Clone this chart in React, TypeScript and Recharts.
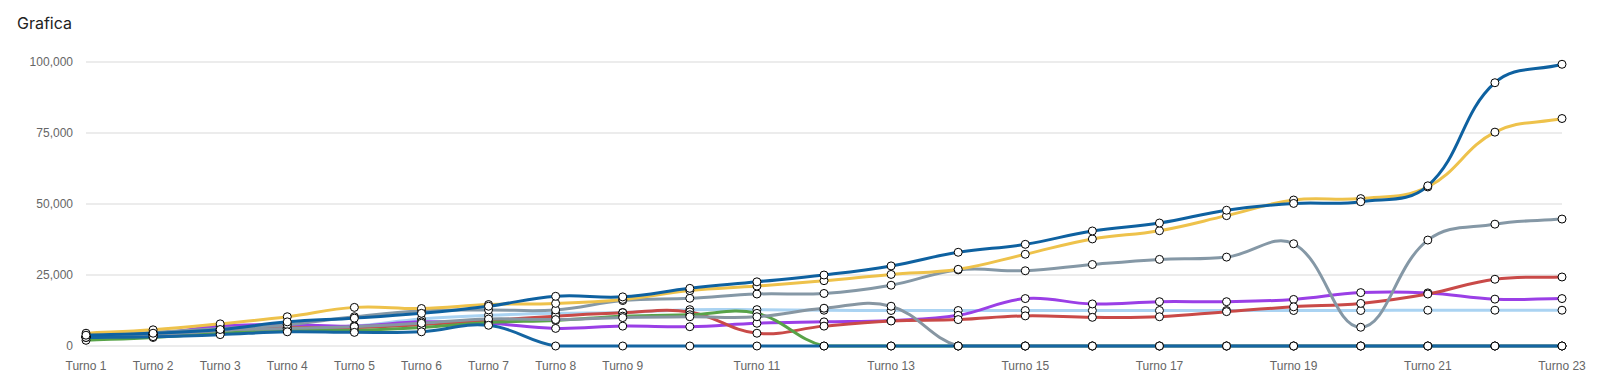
import React from 'react';
import { LineChart, Line, XAxis, YAxis, CartesianGrid } from 'recharts';

const categories = [
  'Turno 1', 'Turno 2', 'Turno 3', 'Turno 4', 'Turno 5', 'Turno 6', 'Turno 7', 'Turno 8',
  'Turno 9', 'Turno 10', 'Turno 11', 'Turno 12', 'Turno 13', 'Turno 14', 'Turno 15', 'Turno 16',
  'Turno 17', 'Turno 18', 'Turno 19', 'Turno 20', 'Turno 21', 'Turno 22', 'Turno 23',
];
const xTicks = [
  'Turno 1', 'Turno 2', 'Turno 3', 'Turno 4', 'Turno 5', 'Turno 6', 'Turno 7', 'Turno 8',
  'Turno 9', 'Turno 11', 'Turno 13', 'Turno 15', 'Turno 17', 'Turno 19', 'Turno 21', 'Turno 23',
];
const yTicks = [0, 25000, 50000, 75000, 100000];

const blue = [3800, 4500, 5800, 8500, 9800, 11500, 14000, 17500, 17300, 20300, 22600, 25000, 28200, 33000, 35800, 40500, 43300, 47800, 50200, 50800, 56400, 92700, 99200];
const yellow = [4500, 5700, 7800, 10300, 13600, 13200, 14600, 15000, 16400, 19500, 21100, 23000, 25200, 27000, 32300, 37700, 40600, 45900, 51400, 51900, 56000, 75300, 80100];
const gray = [3500, 4800, 6200, 7500, 10300, 12400, 12700, 12700, 16000, 16800, 18300, 18500, 21400, 26800, 26500, 28700, 30500, 31300, 36000, 6600, 37300, 42900, 44700];
const red = [3000, 4000, 5500, 6500, 6500, 7500, 9000, 10500, 11700, 12000, 4500, 7000, 8800, 9300, 10600, 10100, 10300, 12100, 13800, 15000, 18300, 23500, 24300];
const purple = [3200, 4200, 7000, 7500, 7000, 8500, 8000, 6200, 7000, 6800, 8000, 8500, 9000, 10800, 16700, 14800, 15600, 15600, 16400, 18800, 18700, 16500, 16700];
const lightBlue = [3300, 4000, 5000, 6000, 7000, 9500, 10800, 11500, 11800, 12800, 12800, 12600, 12500, 12500, 12500, 12500, 12500, 12500, 12500, 12500, 12600, 12600, 12600];
const green = [2000, 3000, 4500, 5500, 5500, 6500, 8300, 9000, 10500, 11000, 11500, 0, 0, 0, 0, 0, 0, 0, 0, 0, 0, 0, 0];
const gray2 = [3000, 3800, 5500, 6200, 6800, 8000, 9500, 9300, 10000, 10300, 10300, 13300, 14000, 0, 0, 0, 0, 0, 0, 0, 0, 0, 0];
const blue2 = [3000, 3300, 4000, 5000, 4800, 5000, 7300, 0, 0, 0, 0, 0, 0, 0, 0, 0, 0, 0, 0, 0, 0, 0, 0];

const rows = categories.map((name, i) => ({
  name,
  blue: blue[i], yellow: yellow[i], gray: gray[i], red: red[i], purple: purple[i],
  lightBlue: lightBlue[i], green: green[i], gray2: gray2[i], blue2: blue2[i],
}));

const W = 1600;
const H = 387;
const M = { top: 62, right: 38, bottom: 11, left: 0 };
const Y_W = 86;
const X_H = 30;
const area = { left: M.left + Y_W, right: W - M.right, top: M.top, bottom: H - M.bottom - X_H };

// chart.js style spline (tension 0.4), control points capped to the plot area
function splineCurve(context: any) {
  let pts: number[][] = [];
  const cx = (v: number) => Math.min(Math.max(v, area.left), area.right);
  const cy = (v: number) => Math.min(Math.max(v, area.top), area.bottom);
  return {
    areaStart() {},
    areaEnd() {},
    lineStart() { pts = []; },
    point(x: number, y: number) { pts.push([+x, +y]); },
    lineEnd() {
      const n = pts.length;
      if (!n) return;
      context.moveTo(pts[0][0], pts[0][1]);
      const prev: number[][] = [];
      const next: number[][] = [];
      for (let i = 0; i < n; i++) {
        const p0 = pts[Math.max(i - 1, 0)], p1 = pts[i], p2 = pts[Math.min(i + 1, n - 1)];
        const d01 = Math.hypot(p1[0] - p0[0], p1[1] - p0[1]);
        const d12 = Math.hypot(p2[0] - p1[0], p2[1] - p1[1]);
        let s01 = d01 / (d01 + d12);
        let s12 = d12 / (d01 + d12);
        if (!isFinite(s01)) s01 = 0;
        if (!isFinite(s12)) s12 = 0;
        const fa = 0.4 * s01, fb = 0.4 * s12;
        prev[i] = [cx(p1[0] - fa * (p2[0] - p0[0])), cy(p1[1] - fa * (p2[1] - p0[1]))];
        next[i] = [cx(p1[0] + fb * (p2[0] - p0[0])), cy(p1[1] + fb * (p2[1] - p0[1]))];
      }
      for (let i = 1; i < n; i++) {
        context.bezierCurveTo(next[i - 1][0], next[i - 1][1], prev[i][0], prev[i][1], pts[i][0], pts[i][1]);
      }
    },
  };
}

const series = [
  { key: 'lightBlue', color: '#aad3f2' },
  { key: 'purple', color: '#9a3fe6' },
  { key: 'red', color: '#c94a48' },
  { key: 'green', color: '#58a348' },
  { key: 'gray2', color: '#8796a2' },
  { key: 'gray', color: '#8598a6' },
  { key: 'yellow', color: '#eec24b' },
  { key: 'blue2', color: '#1465a2' },
  { key: 'blue', color: '#0e61a0' },
];

const tickStyle = { fill: '#666', fontSize: 12, fontFamily: '"Liberation Sans", Arial, sans-serif' };

export default function App() {
  return (
    <div style={{ position: 'absolute', left: 0, top: 0, width: W, height: H, background: '#fff' }}>
      <div style={{ position: 'absolute', left: 17, top: 13, fontSize: 16, lineHeight: '20px', color: '#222', fontFamily: 'Inter, "Open Sans", sans-serif' }}>
        Grafica
      </div>
      <LineChart width={W} height={H} data={rows} margin={M}>
        <CartesianGrid vertical={false} stroke="#e6e6e6" strokeWidth={1.5} />
        <XAxis
          dataKey="name"
          ticks={xTicks}
          interval={0}
          height={X_H}
          axisLine={false}
          tickLine={false}
          tickMargin={9}
          tick={tickStyle}
        />
        <YAxis
          domain={[0, 100000]}
          ticks={yTicks}
          width={Y_W}
          axisLine={false}
          tickLine={false}
          tickMargin={7}
          tick={tickStyle}
          tickFormatter={(v: number) => v.toLocaleString('en-US')}
        />
        {series.map(s => (
          <Line
            key={s.key}
            dataKey={s.key}
            type={splineCurve as any}
            stroke={s.color}
            strokeWidth={3}
            dot={{ r: 4, fill: '#fff', stroke: '#000', strokeWidth: 1 }}
            activeDot={false}
            isAnimationActive={false}
          />
        ))}
      </LineChart>
    </div>
  );
}
